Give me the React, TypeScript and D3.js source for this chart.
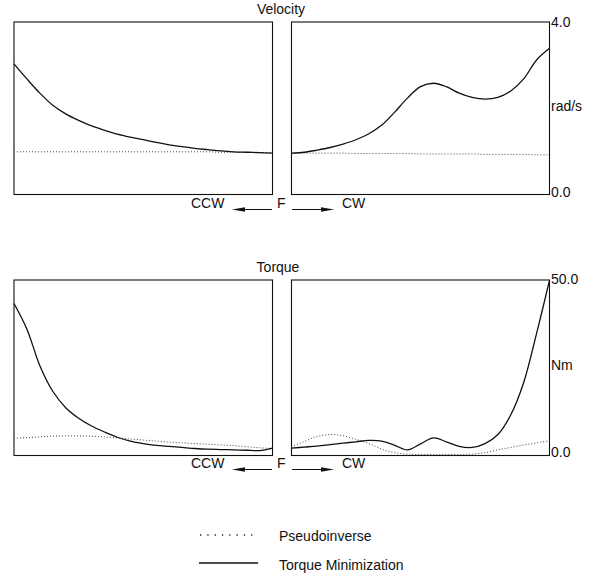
import * as d3 from 'd3'

// normalized position along each half of the sweep (0 = panel left edge, 1 = panel right edge)
const POS = [0, 0.05, 0.1, 0.15, 0.2, 0.25, 0.3, 0.35, 0.4, 0.45, 0.5, 0.55, 0.6, 0.65, 0.7, 0.75, 0.8, 0.85, 0.9, 0.95, 1]

// velocity, rad/s
const VEL_CCW_TM = [3.03, 2.68, 2.35, 2.07, 1.87, 1.72, 1.59, 1.49, 1.4, 1.33, 1.27, 1.21, 1.15, 1.11, 1.07, 1.04, 1.01, 0.99, 0.98, 0.97, 0.96]
const VEL_CCW_PI = [0.99, 0.99, 0.99, 0.99, 0.99, 0.99, 0.99, 0.99, 0.99, 0.99, 0.99, 0.99, 0.99, 0.99, 0.99, 0.99, 0.98, 0.98, 0.98, 0.97, 0.97]
const VEL_CW_TM = [0.96, 0.98, 1.03, 1.09, 1.17, 1.27, 1.41, 1.61, 1.91, 2.24, 2.5, 2.58, 2.5, 2.35, 2.25, 2.21, 2.25, 2.4, 2.68, 3.12, 3.39]
const VEL_CW_PI = [0.96, 0.96, 0.96, 0.96, 0.96, 0.95, 0.95, 0.95, 0.95, 0.95, 0.94, 0.94, 0.94, 0.94, 0.94, 0.93, 0.93, 0.93, 0.93, 0.92, 0.92]

// torque, Nm
const TRQ_CCW_TM = [43.3, 36.0, 25.6, 18.3, 13.6, 10.6, 8.4, 6.7, 5.2, 4.1, 3.4, 2.9, 2.6, 2.3, 2.0, 1.8, 1.7, 1.6, 1.5, 1.4, 2.1]
const TRQ_CCW_PI = [4.9, 5.1, 5.3, 5.5, 5.6, 5.6, 5.5, 5.3, 5.0, 4.7, 4.4, 4.1, 3.8, 3.6, 3.4, 3.2, 3.0, 2.8, 2.5, 2.2, 2.0]
const TRQ_CW_TM = [2.1, 2.4, 2.7, 3.1, 3.5, 3.9, 4.3, 4.1, 2.9, 1.6, 3.3, 5.0, 3.9, 2.6, 2.3, 3.4, 6.0, 11.6, 20.8, 34.8, 49.9]
const TRQ_CW_PI = [2.4, 4.0, 5.4, 6.0, 5.6, 4.6, 3.4, 1.8, 0.8, 0.4, 0.3, 0.3, 0.3, 0.3, 0.4, 0.8, 1.6, 2.3, 3.0, 3.6, 4.2]

const VEL_MAX = 4.0
const TRQ_MAX = 50.0

const FONT = 'Liberation Sans, Arial, Helvetica, sans-serif'
const FS = 14

type PanelProps = {
  x0: number
  x1: number
  y0: number
  y1: number
  max: number
  tm: number[]
  pi: number[]
}

function Panel({ x0, x1, y0, y1, max, tm, pi }: PanelProps) {
  const x = d3.scaleLinear().domain([0, 1]).range([x0, x1])
  const y = d3.scaleLinear().domain([0, max]).range([y1, y0])
  const line = d3.line<number>()
    .x((_, i) => x(POS[i]))
    .y(d => y(d))
    .curve(d3.curveCatmullRom.alpha(0.5))

  return (
    <g>
      <rect x={x0} y={y0} width={x1 - x0} height={y1 - y0} fill="none" stroke="#111" strokeWidth={1.1} />
      <path d={line(pi) || ''} fill="none" stroke="#444" strokeWidth={1} strokeDasharray="1,2" />
      <path d={line(tm) || ''} fill="none" stroke="#111" strokeWidth={1.3} />
    </g>
  )
}

function Arrow({ xa, xb, y }: { xa: number; xb: number; y: number }) {
  // tip at xb
  const dir = xb > xa ? 1 : -1
  const headLen = 13
  return (
    <g>
      <line x1={xa} y1={y} x2={xb - dir * headLen * 0.5} y2={y} stroke="#111" strokeWidth={1.2} />
      <polygon
        points={`${xb},${y} ${xb - dir * headLen},${y - 2.2} ${xb - dir * headLen},${y + 2.2}`}
        fill="#111"
      />
    </g>
  )
}

function Direction({ y }: { y: number }) {
  return (
    <g fontFamily={FONT} fontSize={FS} fill="#111">
      <text x={191} y={y}>CCW</text>
      <Arrow xa={272} xb={232} y={y + 1.5} />
      <text x={277} y={y}>F</text>
      <Arrow xa={292} xb={334} y={y + 1.5} />
      <text x={342} y={y}>CW</text>
    </g>
  )
}

export default function App() {
  const L = { x0: 14, x1: 272.5 }
  const R = { x0: 291.5, x1: 549.5 }
  const V = { y0: 22, y1: 194.5 }
  const T = { y0: 280, y1: 455.5 }

  const vScale = d3.scaleLinear().domain([0, VEL_MAX]).range([V.y1, V.y0])
  const tScale = d3.scaleLinear().domain([0, TRQ_MAX]).range([T.y1, T.y0])

  return (
    <svg
      width={596}
      height={581}
      style={{ position: 'absolute', left: 0, top: 0, background: '#fff' }}
    >
      <rect x={0} y={0} width={596} height={581} fill="#fff" />

      {/* Velocity */}
      <text x={281} y={13.5} textAnchor="middle" fontFamily={FONT} fontSize={FS} fill="#111">Velocity</text>
      <Panel {...L} {...V} max={VEL_MAX} tm={VEL_CCW_TM} pi={VEL_CCW_PI} />
      <Panel {...R} {...V} max={VEL_MAX} tm={VEL_CW_TM} pi={VEL_CW_PI} />
      <g fontFamily={FONT} fontSize={FS} fill="#111">
        <text x={551} y={vScale(VEL_MAX) + 5}>{VEL_MAX.toFixed(1)}</text>
        <text x={551} y={111}>rad/s</text>
        <text x={551} y={vScale(0) + 2.5}>{(0).toFixed(1)}</text>
      </g>
      <Direction y={208} />

      {/* Torque */}
      <text x={278} y={272} textAnchor="middle" fontFamily={FONT} fontSize={FS} fill="#111">Torque</text>
      <Panel {...L} {...T} max={TRQ_MAX} tm={TRQ_CCW_TM} pi={TRQ_CCW_PI} />
      <Panel {...R} {...T} max={TRQ_MAX} tm={TRQ_CW_TM} pi={TRQ_CW_PI} />
      <g fontFamily={FONT} fontSize={FS} fill="#111">
        <text x={551} y={tScale(TRQ_MAX) + 4}>{TRQ_MAX.toFixed(1)}</text>
        <text x={551} y={370}>Nm</text>
        <text x={551} y={tScale(0) + 1.5}>{(0).toFixed(1)}</text>
      </g>
      <Direction y={468} />

      {/* Legend */}
      <line x1={200} y1={535} x2={258} y2={535} stroke="#222" strokeWidth={1.3} strokeDasharray="1.3,6" />
      <text x={279} y={541} fontFamily={FONT} fontSize={FS} fill="#111">Pseudoinverse</text>
      <line x1={199} y1={563} x2={258} y2={563} stroke="#111" strokeWidth={1.4} />
      <text x={279} y={570} fontFamily={FONT} fontSize={FS} fill="#111">Torque Minimization</text>
    </svg>
  )
}
